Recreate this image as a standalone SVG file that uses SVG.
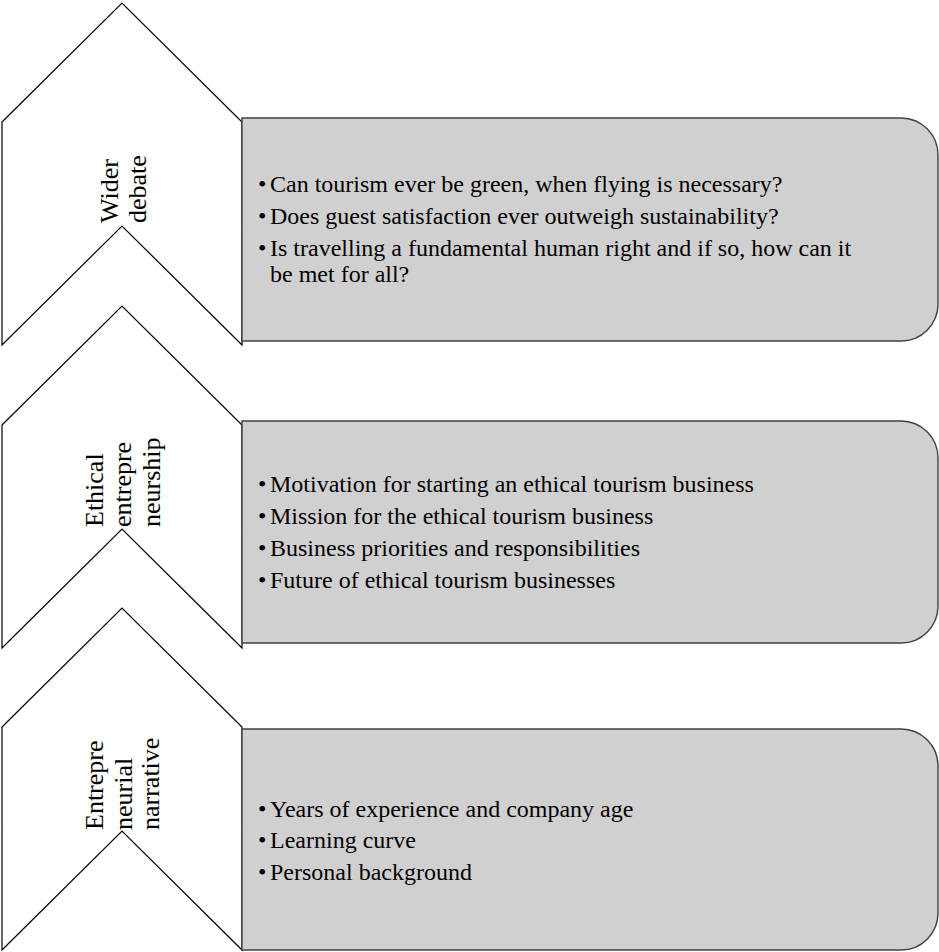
<svg xmlns="http://www.w3.org/2000/svg" width="939" height="952" viewBox="0 0 939 952">
<style>
.chev{fill:#ffffff;stroke:#000000;stroke-width:1.2;stroke-linejoin:miter}
.box{fill:#d0d0d0;stroke:#404040;stroke-width:1.4}
.lbl{font-family:"Liberation Serif","Times New Roman",serif;font-size:26px;fill:#000000}
.item{font-family:"Liberation Serif","Times New Roman",serif;font-size:24px;fill:#000000}
</style>
<rect width="939" height="952" fill="#ffffff"/>
<g id="connectors"></g>
<g id="node-wider-debate">
<polygon class="chev" points="2,122 122,3 242,122 242,345 122,226 2,345"/>
<text class="lbl" transform="translate(117.5,223) rotate(-90)">Wider</text>
<text class="lbl" transform="translate(146,223) rotate(-90)">debate</text>
</g>
<g id="box-wider-debate">
<path class="box" d="M242,118 H901 A37,37 0 0 1 938,155 V304 A37,37 0 0 1 901,341 H242 Z"/>
<text class="item" x="258" y="191.7">•</text><text class="item" x="270" y="191.7">Can tourism ever be green, when flying is necessary?</text>
<text class="item" x="258" y="224.3">•</text><text class="item" x="270" y="224.3">Does guest satisfaction ever outweigh sustainability?</text>
<text class="item" x="258" y="255.7">•</text><text class="item" x="270" y="255.7">Is travelling a fundamental human right and if so, how can it</text>
<text class="item" x="270" y="281.7">be met for all?</text>
</g>
<g id="node-ethical-entrepreneurship">
<polygon class="chev" points="2,425 122,306 242,425 242,648 122,529 2,648"/>
<text class="lbl" transform="translate(102.5,527) rotate(-90)">Ethical</text>
<text class="lbl" transform="translate(131,527) rotate(-90)">entrepre</text>
<text class="lbl" transform="translate(159.5,527) rotate(-90)">neurship</text>
</g>
<g id="box-ethical-entrepreneurship">
<path class="box" d="M242,421 H901 A37,37 0 0 1 938,458 V606 A37,37 0 0 1 901,643 H242 Z"/>
<text class="item" x="258" y="491.7">•</text><text class="item" x="270" y="491.7">Motivation for starting an ethical tourism business</text>
<text class="item" x="258" y="524.3">•</text><text class="item" x="270" y="524.3">Mission for the ethical tourism business</text>
<text class="item" x="258" y="555.7">•</text><text class="item" x="270" y="555.7">Business priorities and responsibilities</text>
<text class="item" x="258" y="588.3">•</text><text class="item" x="270" y="588.3">Future of ethical tourism businesses</text>
</g>
<g id="node-entrepreneurial-narrative">
<polygon class="chev" points="2,727 122,608 242,727 242,950 122,831 2,950"/>
<text class="lbl" transform="translate(103,830) rotate(-90)">Entrepre</text>
<text class="lbl" transform="translate(131.5,830) rotate(-90)">neurial</text>
<text class="lbl" transform="translate(159,830) rotate(-90)">narrative</text>
</g>
<g id="box-entrepreneurial-narrative">
<path class="box" d="M242,729 H901 A37,37 0 0 1 938,766 V913 A37,37 0 0 1 901,950 H242 Z"/>
<text class="item" x="258" y="816.7">•</text><text class="item" x="270" y="816.7">Years of experience and company age</text>
<text class="item" x="258" y="848.3">•</text><text class="item" x="270" y="848.3">Learning curve</text>
<text class="item" x="258" y="880">•</text><text class="item" x="270" y="880">Personal background</text>
</g>
</svg>
